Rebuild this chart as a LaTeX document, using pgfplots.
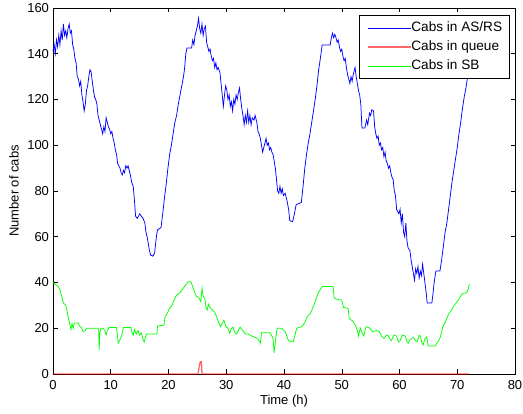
\documentclass[border=0pt]{standalone}
\usepackage{pgfplots}
\pgfplotsset{compat=1.18}
\usepackage{fontspec}
\setmainfont{Liberation Sans}
\begin{document}
\begin{tikzpicture}
\begin{axis}[
  scale only axis, width=462pt, height=366pt,
  xmin=0, xmax=80, ymin=0, ymax=160,
  xtick={0,10,...,80}, ytick={0,20,...,160},
  tick align=inside, major tick length=4.5pt,
  every tick/.style={black, line width=0.5pt},
  axis line style={black, line width=0.8pt},
  axis on top=false, clip=false,
  font=\fontsize{13}{15}\selectfont,
  /pgf/number format/assume math mode=true,
  xticklabel style={yshift=-2.5pt},
  yticklabel style={xshift=-0.5pt},
  xlabel={Time (h)}, ylabel={Number of cabs},
  xlabel style={at={(axis description cs:0.5,-0.0738)}, anchor=center},
  ylabel style={at={(axis description cs:-0.0844,0.5)}, anchor=center, rotate=0},
  legend cell align=left,
  legend image code/.code={\draw[#1] (0pt,0pt) -- (43pt,0pt);},
  legend style={at={(axis description cs:1,1)}, anchor=north east, xshift=-5pt, yshift=-7pt,
    draw=black, line width=0.8pt, fill=white, inner xsep=7.5pt, inner ysep=6pt, row sep=6pt,
    nodes={inner sep=0pt, text height=10pt, text depth=3pt},
    font=\fontsize{13.6}{15}\selectfont},
]
\addplot[blue, line width=0.75pt] coordinates {
(0,141) (0.2,144) (0.4,140) (0.6,146) (0.8,143) (1.0,148) (1.2,144) (1.4,150) (1.6,146) (1.8,153) (2.0,148) (2.2,150) (2.4,147) (2.6,151) (2.8,153) (3.0,149) (3.2,150) (3.4,144) (3.6,142) (3.8,138) (4.0,136) (4.2,130) (4.4,129) (4.6,126) (4.8,128) (5.0,122) (5.2,119) (5.4,115) (5.6,118) (5.8,124) (6.0,126) (6.2,130) (6.4,133) (6.6,132) (6.8,128) (7.0,124) (7.2,121) (7.4,120) (7.6,118) (7.8,113) (8.0,111) (8.2,109) (8.4,107) (8.6,105) (8.8,108) (9.0,106) (9.2,112) (9.4,110) (9.6,108) (9.8,107) (10.0,105) (10.2,106) (10.4,103) (10.6,101) (10.8,98) (11.0,96) (11.2,92) (11.4,91) (11.6,90) (11.8,88) (12.0,87) (12.2,89) (12.4,88) (12.6,91) (12.8,90) (13.0,91) (13.2,89) (13.4,87) (13.6,84) (13.9,82) (14.1,76) (14.3,69) (14.6,68) (15.0,70) (15.3,69) (15.6,68) (15.9,66) (16.1,62) (16.3,60) (16.5,57) (16.7,54) (16.9,52) (17.3,51.5) (17.6,53) (17.9,60) (18.1,63) (18.7,64) (19.0,70) (19.3,77) (19.6,83) (19.9,90) (20.2,96) (20.5,100) (20.8,105) (21.1,110) (21.4,113) (21.7,118) (22.0,122) (22.3,126) (22.6,130) (22.8,134) (23.0,140) (23.2,142.5) (24.0,142.5) (24.2,146) (24.4,144) (24.6,148) (24.8,150) (25.0,152) (25.2,155.5) (25.4,151) (25.6,149) (25.8,153) (26.0,148) (26.2,151) (26.4,152) (26.6,145) (26.8,143) (27.0,141) (27.2,142) (27.4,139) (27.6,137) (27.8,138) (28.0,134) (28.2,136) (28.4,133) (28.6,134) (28.9,132) (29.1,127) (29.3,122) (29.5,117) (29.7,122) (29.9,126) (30.1,124) (30.3,120) (30.5,122) (30.7,117) (30.9,119) (31.1,115) (31.3,120) (31.5,118) (31.7,122) (31.9,120) (32.1,123) (32.3,125) (32.5,120) (32.7,116) (32.9,113) (33.1,109) (33.3,113) (33.5,110) (33.7,115) (33.9,110) (34.1,113) (34.3,109) (34.5,112) (34.8,111) (35.0,113) (35.3,110) (35.5,106) (35.7,105) (35.9,103) (36.1,100) (36.3,97) (36.5,99) (36.7,101) (36.9,103) (37.1,100) (37.3,101) (37.5,98) (37.7,99) (37.9,97) (38.1,96) (38.3,93) (38.5,90) (38.7,85) (38.9,80) (39.1,79) (39.3,82) (39.5,79) (39.7,81) (39.9,78) (40.2,79) (40.5,76) (40.8,72) (41.0,67) (41.5,66.6) (41.8,70) (42.1,74) (43.0,75) (43.3,82) (43.6,90) (43.9,96) (44.2,101) (44.5,105) (44.8,110) (45.1,115) (45.4,120) (45.7,126) (46.0,133) (46.3,138) (46.6,143.8) (48.0,143.8) (48.2,147) (48.4,149) (48.6,147) (48.8,148.5) (49.0,147) (49.2,145) (49.4,146) (49.6,143) (49.8,141) (50.0,142) (50.2,139) (50.4,137) (50.6,138) (50.8,134) (51.0,131) (51.2,129) (51.4,127) (51.6,130) (51.8,128) (52.0,131) (52.3,134) (52.5,130) (52.7,127) (52.9,124) (53.1,122) (53.3,118) (53.5,107.5) (54.0,107.5) (54.3,111) (54.5,109) (54.8,114) (55.0,113) (55.2,115.5) (55.5,115) (55.7,108) (55.9,105) (56.1,103) (56.3,104) (56.5,100) (56.7,101) (56.9,98) (57.1,99) (57.3,95) (57.5,97) (57.7,93) (57.9,92) (58.1,90) (58.3,91) (58.5,88) (58.7,86) (58.9,85) (59.1,80) (59.3,78) (59.5,72) (59.7,71) (59.9,70) (60.1,72) (60.3,66) (60.5,70) (60.7,62) (60.9,60) (61.1,66) (61.3,58) (61.5,55) (61.8,54) (62.0,50) (62.2,47) (62.4,44) (62.6,41) (62.8,46) (63.0,44) (63.2,47) (63.4,42) (63.6,45) (63.8,43) (64.0,48) (64.2,44) (64.4,40) (64.6,36) (64.8,31) (65.6,31) (65.8,35) (66.0,40) (66.3,45) (67.0,45) (67.3,50) (67.6,56) (67.9,62) (68.2,66) (68.5,72) (68.8,78) (69.1,84) (69.4,89) (69.7,94) (70.0,99) (70.3,105) (70.6,110) (70.9,116) (71.2,121) (71.5,125) (71.8,130) (72.0,134)
};
\addlegendentry{Cabs in AS/RS}
\addplot[red, line width=1.3pt, opacity=0.6] coordinates {
(0,0) (25.1,0) (25.3,3) (25.5,5.3) (25.7,5.4) (25.8,0) (72,0)
};
\addlegendentry{Cabs in queue}
\addplot[green, line width=0.75pt] coordinates {
(0,40) (0.5,39) (1.0,38) (1.3,36) (1.6,33) (1.8,31) (2.2,30) (2.4,28) (2.6,25) (2.9,22) (3.1,19.5) (3.3,22) (3.5,20) (3.7,22.3) (4.4,22.3) (4.6,21) (5.0,20) (5.2,18.5) (5.6,19) (5.8,20) (7.9,20) (8.0,10.5) (8.1,18) (8.3,20) (8.7,20) (9.0,19) (9.2,17) (9.4,19) (9.7,20.3) (11.0,20.3) (11.3,13.5) (11.6,15) (11.9,17) (12.2,20.3) (13.5,20.3) (13.7,18) (13.9,17) (14.1,19.5) (14.4,17.5) (14.7,19) (15.0,17) (15.3,18) (15.6,15) (15.8,14) (16.0,16) (16.2,17.5) (18.0,17.5) (18.1,21) (19.2,21.3) (19.4,25) (19.9,27) (20.1,28.5) (20.6,30) (20.9,32) (21.4,34.5) (22.0,35.5) (22.4,37) (23.0,39) (23.4,40.3) (23.9,40.3) (24.2,38) (24.5,36) (24.8,34) (25.2,33.5) (25.6,31.6) (25.8,37.5) (26.0,34) (26.3,33) (26.5,29) (26.7,28) (26.9,30.5) (27.2,29) (27.6,28) (28.0,27) (28.3,25.3) (28.7,22.5) (29.0,20.7) (29.3,22) (29.6,23.5) (29.9,21) (30.3,20) (30.6,17.8) (30.9,20) (31.2,20.4) (31.5,18) (31.8,17.5) (32.1,19) (32.4,20.5) (32.7,19.5) (33.0,18.5) (33.3,17.5) (33.8,17.5) (34.4,16.6) (35.0,16) (35.4,15.6) (35.8,14) (35.9,13.4) (36.1,18) (37.6,18) (38.1,15.6) (38.3,9.3) (38.5,14) (38.8,20) (39.6,20) (40.0,19) (40.3,18) (40.7,15) (41.0,14.1) (41.6,14.1) (41.9,17) (42.2,20) (43.1,20.7) (43.6,22.5) (44.0,25) (44.6,26.5) (45.0,29) (45.4,31.6) (45.9,35.3) (46.2,36.5) (46.6,38.2) (48.5,38.2) (48.7,33.1) (49.5,32.5) (50.0,32.3) (50.3,29.1) (51.1,28.7) (51.3,24.3) (52.0,22.9) (52.4,21) (52.7,19) (52.9,16.6) (53.2,20) (53.5,18) (53.8,16.6) (54.2,20.7) (54.9,20) (55.3,18.5) (56.0,19) (56.5,18.5) (56.9,16.6) (57.3,15.6) (57.8,17) (58.1,16.6) (58.4,15) (58.6,14.6) (59.0,17) (59.5,16.6) (59.8,14) (60.1,14.6) (60.5,17) (61.0,16.6) (61.3,14) (61.5,13.4) (61.8,15) (62.4,16) (62.8,14.5) (63.1,14.1) (63.4,17) (63.6,16.6) (63.9,13.5) (64.1,12.7) (64.4,15.5) (64.7,16.2) (65.0,12.2) (66.1,12.2) (66.5,13.5) (67.0,15.6) (67.3,18.5) (67.5,20.7) (68.0,23) (68.5,26.2) (69.0,28) (69.3,29.4) (69.8,31) (70.2,32.3) (70.8,35) (71.6,35.5) (71.9,37) (72.1,39.3)
};
\addlegendentry{Cabs in SB}
\coordinate (BL) at (rel axis cs:0,0);
\coordinate (TR) at (rel axis cs:1,1);
\end{axis}
\pgfresetboundingbox
\path[use as bounding box] ([xshift=-53pt,yshift=-40pt]BL) rectangle ([xshift=8pt,yshift=8pt]TR);
\end{tikzpicture}
\end{document}
